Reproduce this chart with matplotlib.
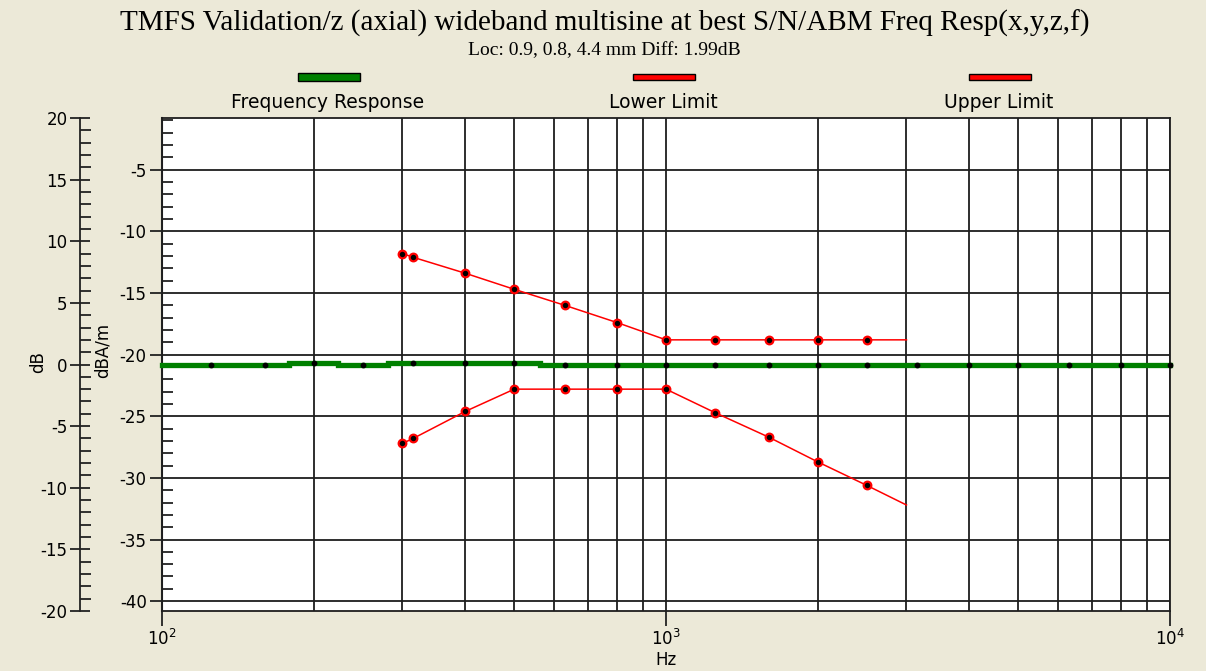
import numpy as np
import matplotlib
matplotlib.use('Agg')
import matplotlib.pyplot as plt
from matplotlib.patches import Rectangle
from matplotlib.ticker import MultipleLocator, LogLocator, NullFormatter, FixedLocator

plt.rcParams['axes.unicode_minus'] = False

# ---------------- data ----------------
freq = [125, 160, 200, 250, 315, 400, 500, 630, 800, 1000,
        1250, 1600, 2000, 2500, 3150, 4000, 5000, 6300, 8000, 10000]
resp_db = [-0.05, -0.05, 0.15, -0.05, 0.15, 0.15, 0.15, -0.02, -0.02, -0.02,
           -0.02, -0.02, -0.02, -0.02, -0.02, -0.02, -0.02, -0.02, -0.02, -0.03]

limit_freq = [300, 315, 400, 500, 630, 800, 1000, 1250, 1600, 2000, 2500, 3000]
upper_db = [9.0, 8.7, 7.4, 6.1, 4.8, 3.4, 2.0, 2.0, 2.0, 2.0, 2.0, 2.0]
lower_db = [-6.4, -6.0, -3.8, -2.0, -2.0, -2.0, -2.0, -3.9, -5.9, -7.9, -9.8, -11.4]

series_labels = ["Frequency Response", "Lower Limit", "Upper Limit"]
title = "TMFS Validation/z (axial) wideband multisine at best S/N/ABM Freq Resp(x,y,z,f)"
subtitle = "Loc: 0.9, 0.8, 4.4 mm Diff: 1.99dB"
dba_offset = 20.8
dba_ticks = [-5, -10, -15, -20, -25, -30, -35, -40]
db_ticks = [20, 15, 10, 5, 0, -5, -10, -15, -20]

# ---------------- layout ----------------
W, H = 1206, 671
BG = '#ECE9D8'
GRID = '#1e1e1e'
GREEN = '#008000'
RED = '#FF0000'
TFS = 12

fig = plt.figure(figsize=(W / 100, H / 100), dpi=100, facecolor=BG)

def fx(px):
    return px / W

def fy(py):
    return 1 - py / H

L, R, T, B = 162, 1170, 118, 611
ax = fig.add_axes([fx(L), fy(B), (R - L) / W, (B - T) / H])
ax.set_facecolor('white')
ax.set_xscale('log')
ax.set_xlim(100, 10000)
ax.set_ylim(-20, 20)

# grid
ax.xaxis.set_major_locator(LogLocator(base=10))
ax.xaxis.set_minor_locator(LogLocator(base=10, subs=np.arange(2, 10)))
ax.xaxis.set_minor_formatter(NullFormatter())
ax.grid(True, which='both', axis='x', color=GRID, lw=1.3, zorder=1)
for t in dba_ticks:
    ax.axhline(t + dba_offset, color=GRID, lw=1.3, zorder=1)

for s in ['top', 'right', 'bottom']:
    ax.spines[s].set_color(GRID)
    ax.spines[s].set_linewidth(1.3)
ax.spines['left'].set_position(('axes', (80 - L) / (R - L)))
ax.spines['left'].set_color('#222222')
ax.spines['left'].set_linewidth(1.3)

ax.tick_params(axis='x', which='major', direction='out', length=11, width=1.3,
               pad=2, labelsize=TFS, color='#222222')
ax.tick_params(axis='x', which='minor', length=0)
for lab in ax.get_xticklabels():
    lab.set_family('DejaVu Sans')

ax.yaxis.set_major_locator(FixedLocator(db_ticks))
ax.yaxis.set_minor_locator(MultipleLocator(1))
ax.tick_params(axis='y', which='major', direction='inout', length=14, width=1.3,
               labelsize=TFS, pad=2, color='#222222')
ax.tick_params(axis='y', which='minor', direction='in', length=8, width=1.3,
               color='#222222')

sec = ax.secondary_yaxis(0, functions=(lambda y: y - dba_offset,
                                       lambda y: y + dba_offset))
sec.yaxis.set_major_locator(FixedLocator(dba_ticks))
sec.yaxis.set_minor_locator(MultipleLocator(1))
sec.tick_params(axis='y', which='major', direction='out', length=9, width=1.3,
                labelsize=TFS, pad=2, color='#222222')
sec.tick_params(axis='y', which='minor', direction='in', length=8, width=1.3,
                color='#222222')
sec.spines['left'].set_color('#222222')
sec.spines['left'].set_linewidth(1.5)

# ---------------- series ----------------
f = np.array(freq, dtype=float)
mids = np.sqrt(f[:-1] * f[1:])
edges = np.concatenate([[100.0], mids, [10000.0]])
xs, ys = [], []
for i, v in enumerate(resp_db):
    xs += [edges[i], edges[i + 1]]
    ys += [v, v]
ax.plot(xs, ys, color=GREEN, lw=3.8, solid_joinstyle='miter', zorder=3,
        clip_on=False)
ax.plot(freq, resp_db, ls='none', marker='o', ms=3.2, mfc='black', mec='black',
        zorder=4, clip_on=False)

for vals in (lower_db, upper_db):
    ax.plot(limit_freq, vals, color=RED, lw=1.1, zorder=5, marker='o', ms=5.5,
            mfc='black', mec=RED, mew=1.6, markevery=slice(0, -1))

# ---------------- texts ----------------
fig.text(fx(605), fy(23), title, ha='center', va='center',
         family='Liberation Serif', fontsize=21)
fig.text(fx(604), fy(51), subtitle, ha='center', va='center',
         family='Liberation Serif', fontsize=14)
fig.text(fx(38), fy(362), 'dB', rotation=90, ha='center', va='center',
         family='DejaVu Sans', fontsize=TFS)
fig.text(fx(103), fy(350), 'dBA/m', rotation=90, ha='center', va='center',
         family='DejaVu Sans', fontsize=TFS)
fig.text(fx(666), fy(660), 'Hz', ha='center', va='center',
         family='DejaVu Sans', fontsize=TFS)

# legend
leg_x = [329, 664, 1000]
leg_col = [GREEN, RED, RED]
leg_h = [8, 6, 6]
for cx, col, hh, lab in zip(leg_x, leg_col, leg_h, series_labels):
    fig.add_artist(Rectangle((fx(cx - 31), fy(77 + hh / 2)), 62 / W, hh / H,
                             transform=fig.transFigure, facecolor=col,
                             edgecolor='black', lw=1.0))
    fig.text(fx(cx - 1), fy(103), lab, ha='center', va='center',
             family='DejaVu Sans', fontsize=13.5)

fig.savefig('out.png', dpi=100, facecolor=BG)
